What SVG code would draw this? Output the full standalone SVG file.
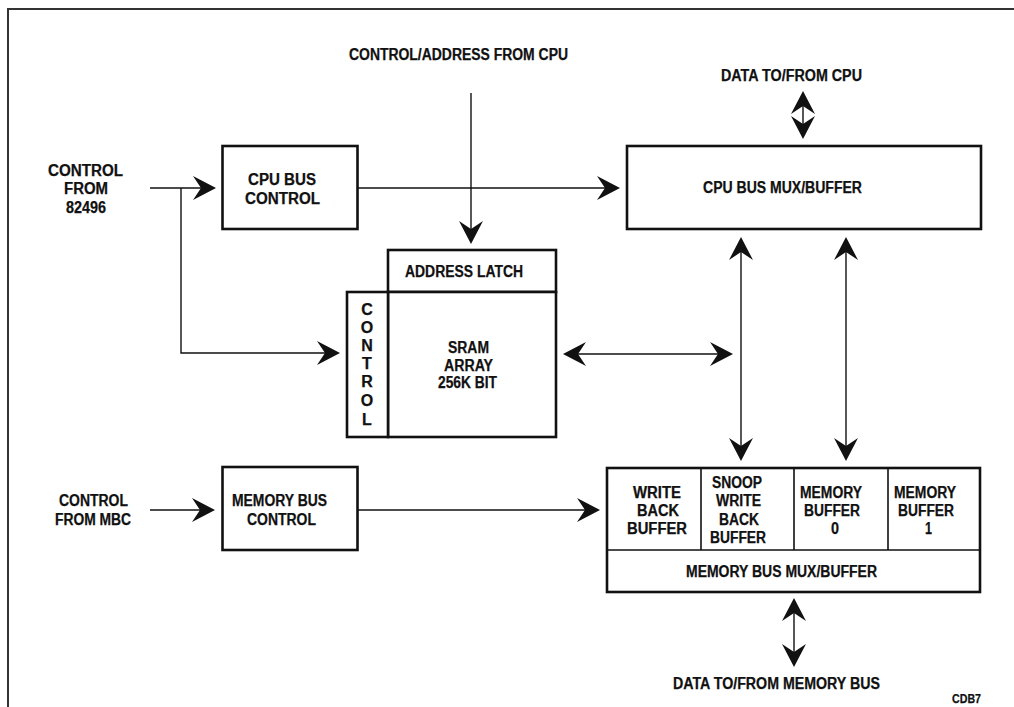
<svg xmlns="http://www.w3.org/2000/svg" width="1014" height="707" viewBox="0 0 1014 707">
<style>
text{font-family:"Liberation Sans",Arial,sans-serif;font-weight:700;font-size:16px;fill:#111;stroke:#111;stroke-width:.25}
.b{fill:#fff;stroke:#111;stroke-width:2.6}
.d{fill:none;stroke:#111;stroke-width:1.6}
.c{fill:none;stroke:#111;stroke-width:1.4}
.f{fill:none;stroke:#333;stroke-width:2}
.cv text{text-anchor:middle}
</style>
<defs>
<marker id="a" markerUnits="userSpaceOnUse" markerWidth="26" markerHeight="28" viewBox="0 -14 26 28" refX="10" refY="0" orient="auto-start-reverse"><path d="M23 0L0-12 8 0 0 12Z" fill="#111"/></marker>
</defs>
<rect width="1014" height="707" fill="#fff"/>
<path class="f" d="M8 707V9H1014"/>
<g id="connectors">
<path class="c" d="M150 188H203" marker-end="url(#a)"/>
<path class="c" d="M181 188V353H327" marker-end="url(#a)"/>
<path class="c" d="M357 188H607" marker-end="url(#a)"/>
<path class="c" d="M471 93V231" marker-end="url(#a)"/>
<path class="c" d="M150 510H202" marker-end="url(#a)"/>
<path class="c" d="M357 510H587" marker-end="url(#a)"/>
<path class="c" d="M576 354H720" marker-start="url(#a)" marker-end="url(#a)"/>
<path class="c" d="M741 250V448" marker-start="url(#a)" marker-end="url(#a)"/>
<path class="c" d="M846 250V448" marker-start="url(#a)" marker-end="url(#a)"/>
<path class="c" d="M803 104V126" marker-start="url(#a)" marker-end="url(#a)"/>
<path class="c" d="M794 611V654" marker-start="url(#a)" marker-end="url(#a)"/>
</g>
<g id="label-control-address"><text x="349" y="59.5" textLength="219" lengthAdjust="spacingAndGlyphs">CONTROL/ADDRESS FROM CPU</text></g>
<g id="label-data-cpu"><text x="721" y="81" textLength="141" lengthAdjust="spacingAndGlyphs">DATA TO/FROM CPU</text></g>
<g id="label-control-82496">
<text x="48" y="176" textLength="75" lengthAdjust="spacingAndGlyphs">CONTROL</text>
<text x="64" y="194" textLength="44" lengthAdjust="spacingAndGlyphs">FROM</text>
<text x="66" y="213" textLength="40" lengthAdjust="spacingAndGlyphs">82496</text>
</g>
<g id="label-control-mbc">
<text x="59" y="506" textLength="69" lengthAdjust="spacingAndGlyphs">CONTROL</text>
<text x="55" y="525" textLength="76" lengthAdjust="spacingAndGlyphs">FROM MBC</text>
</g>
<g id="cpu-bus-control">
<rect class="b" x="222.5" y="146" width="135" height="83"/>
<text x="248" y="185" textLength="68" lengthAdjust="spacingAndGlyphs">CPU BUS</text>
<text x="245" y="204" textLength="75" lengthAdjust="spacingAndGlyphs">CONTROL</text>
</g>
<g id="cpu-bus-mux">
<rect class="b" x="627" y="146" width="354" height="83"/>
<text x="703" y="193" textLength="159" lengthAdjust="spacingAndGlyphs">CPU BUS MUX/BUFFER</text>
</g>
<g id="address-latch">
<rect class="b" x="388" y="250" width="168" height="42"/>
<text x="405" y="277" textLength="118" lengthAdjust="spacingAndGlyphs">ADDRESS LATCH</text>
</g>
<g id="sram-array">
<rect class="b" x="388" y="292" width="168" height="145"/>
<text x="448" y="353" textLength="41" lengthAdjust="spacingAndGlyphs">SRAM</text>
<text x="444" y="371" textLength="49" lengthAdjust="spacingAndGlyphs">ARRAY</text>
<text x="438" y="388" textLength="59" lengthAdjust="spacingAndGlyphs">256K BIT</text>
</g>
<g id="control-strip" class="cv">
<rect class="b" x="347" y="292" width="41" height="145"/>
<text x="367" y="315">C</text>
<text x="367" y="333">O</text>
<text x="367" y="351">N</text>
<text x="367" y="369">T</text>
<text x="367" y="387">R</text>
<text x="367" y="406">O</text>
<text x="367" y="425">L</text>
</g>
<g id="memory-bus-control">
<rect class="b" x="222.5" y="467" width="135" height="83"/>
<text x="232" y="506" textLength="95" lengthAdjust="spacingAndGlyphs">MEMORY BUS</text>
<text x="247" y="525" textLength="69" lengthAdjust="spacingAndGlyphs">CONTROL</text>
</g>
<g id="memory-bus-mux">
<rect class="b" x="607" y="468" width="373" height="124"/>
<path class="d" d="M607 550H980M701 468V550M794 468V550M888 468V550"/>
<text x="686" y="577" textLength="191" lengthAdjust="spacingAndGlyphs">MEMORY BUS MUX/BUFFER</text>
</g>
<g id="write-back-buffer">
<text x="633" y="498" textLength="48" lengthAdjust="spacingAndGlyphs">WRITE</text>
<text x="637" y="516" textLength="42" lengthAdjust="spacingAndGlyphs">BACK</text>
<text x="627" y="534" textLength="60" lengthAdjust="spacingAndGlyphs">BUFFER</text>
</g>
<g id="snoop-write-back-buffer">
<text x="712" y="488" textLength="50" lengthAdjust="spacingAndGlyphs">SNOOP</text>
<text x="716" y="506" textLength="45" lengthAdjust="spacingAndGlyphs">WRITE</text>
<text x="719" y="525" textLength="40" lengthAdjust="spacingAndGlyphs">BACK</text>
<text x="710" y="543" textLength="56" lengthAdjust="spacingAndGlyphs">BUFFER</text>
</g>
<g id="memory-buffer-0">
<text x="800" y="498" textLength="62" lengthAdjust="spacingAndGlyphs">MEMORY</text>
<text x="804" y="516" textLength="56" lengthAdjust="spacingAndGlyphs">BUFFER</text>
<text x="831" y="534" textLength="8" lengthAdjust="spacingAndGlyphs">0</text>
</g>
<g id="memory-buffer-1">
<text x="894" y="498" textLength="62" lengthAdjust="spacingAndGlyphs">MEMORY</text>
<text x="898" y="516" textLength="56" lengthAdjust="spacingAndGlyphs">BUFFER</text>
<text x="925" y="534" textLength="7" lengthAdjust="spacingAndGlyphs">1</text>
</g>
<g id="label-data-memory"><text x="673" y="689" textLength="207" lengthAdjust="spacingAndGlyphs">DATA TO/FROM MEMORY BUS</text></g>
<g id="label-cdb7"><text x="952" y="703" style="font-size:13px" textLength="29" lengthAdjust="spacingAndGlyphs">CDB7</text></g>
</svg>
